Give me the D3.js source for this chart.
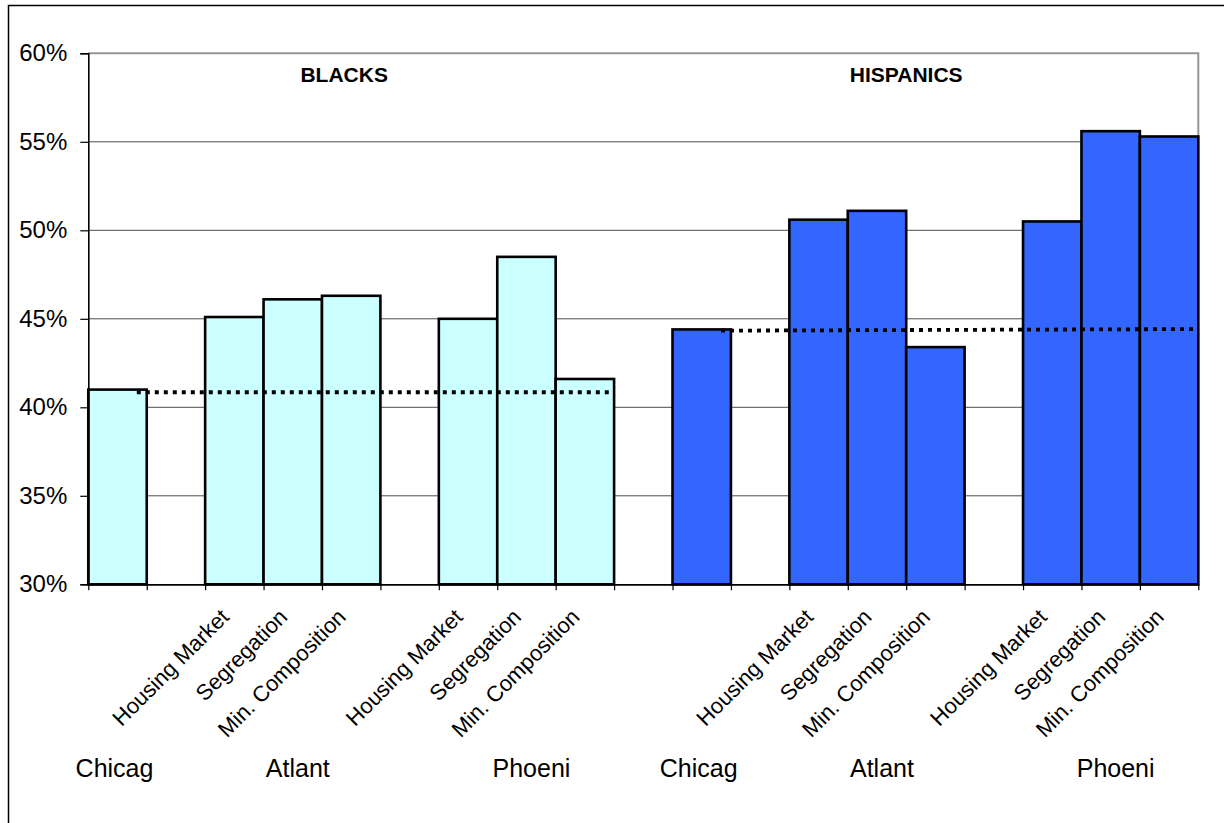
<!DOCTYPE html>
<html>
<head>
<meta charset="utf-8">
<script src="https://cdn.jsdelivr.net/npm/d3@7"></script>
<style>
  html, body { margin: 0; padding: 0; background: #ffffff; }
  svg { display: block; font-family: Arial, "Liberation Sans", sans-serif; }
</style>
</head>
<body>
<svg id="chart" width="1224" height="823"></svg>
<script>
// ---- data -------------------------------------------------------------
const groupNames = ["BLACKS", "HISPANICS"];
const cityLabels = ["Chicag", "Atlant", "Phoeni"];
const factorLabels = ["Housing Market", "Segregation", "Min. Composition"];
const groupColors = ["#CCFFFF", "#3366FF"];

// Chicago baseline followed by the three factor scenarios for Atlanta and Phoenix (%)
const blacksChicago = [41.0];
const blacksAtlanta = [45.1, 46.1, 46.3];
const blacksPhoenix = [45.0, 48.5, 41.6];
const hispanicsChicago = [44.4];
const hispanicsAtlanta = [50.6, 51.1, 43.4];
const hispanicsPhoenix = [50.5, 55.6, 55.3];

// Dotted Chicago reference level for each group (start, end) in %
const blacksReference = [40.85, 40.85];
const hispanicsReference = [44.33, 44.42];

const yTicks = [30, 35, 40, 45, 50, 55, 60];

// ---- build the category slots (bars and empty spacer slots) ------------
const groupData = [
  { name: groupNames[0], color: groupColors[0], cities: [blacksChicago, blacksAtlanta, blacksPhoenix], ref: blacksReference },
  { name: groupNames[1], color: groupColors[1], cities: [hispanicsChicago, hispanicsAtlanta, hispanicsPhoenix], ref: hispanicsReference }
];

const slots = [];
const cityGroups = [];
groupData.forEach((g, gi) => {
  if (gi > 0) slots.push({ gap: true });
  g.start = slots.length;
  g.cities.forEach((vals, ci) => {
    if (ci > 0) slots.push({ gap: true });
    const first = slots.length;
    vals.forEach((v, k) => {
      slots.push({
        gap: false, value: v, color: g.color,
        label: vals.length > 1 ? factorLabels[k] : ""
      });
    });
    cityGroups.push({ label: cityLabels[ci], first, last: slots.length - 1, single: vals.length === 1 });
  });
  g.end = slots.length;
});

// ---- layout -------------------------------------------------------------
const svg = d3.select("#chart");
const plot = { left: 88.3, right: 1198.3, top: 53.3, bottom: 584.3 };

const x = d3.scaleBand().domain(d3.range(slots.length)).range([plot.left, plot.right]).padding(0);
const xUnits = d3.scaleLinear().domain([0, slots.length]).range([plot.left, plot.right]);
const y = d3.scaleLinear().domain([30, 60]).range([plot.bottom, plot.top]);
const bw = x.bandwidth();

// outer chart frame
svg.append("rect")
  .attr("x", 8.5).attr("y", 5.5)
  .attr("width", 1240).attr("height", 840)
  .attr("fill", "none").attr("stroke", "#000").attr("stroke-width", 1.5);

// horizontal gridlines
svg.append("g")
  .selectAll("line")
  .data(yTicks.filter(t => t > 30 && t < 60))
  .join("line")
  .attr("x1", plot.left).attr("x2", plot.right)
  .attr("y1", d => y(d)).attr("y2", d => y(d))
  .attr("stroke", "#4d4d4d").attr("stroke-width", 1);

// plot area border (top and right)
svg.append("path")
  .attr("d", `M${plot.left},${y(60)}H${plot.right}V${plot.bottom}`)
  .attr("fill", "none").attr("stroke", "#969696").attr("stroke-width", 2);

// bars
svg.append("g")
  .selectAll("rect")
  .data(slots.map((s, i) => ({ ...s, i })).filter(s => !s.gap))
  .join("rect")
  .attr("x", d => x(d.i))
  .attr("y", d => y(d.value))
  .attr("width", bw)
  .attr("height", d => y(30) - y(d.value))
  .attr("fill", d => d.color)
  .attr("stroke", "#000")
  .attr("stroke-width", 2.6);

// dotted Chicago reference lines
groupData.forEach(g => {
  const x0 = xUnits(g.start + 0.83);
  const x1 = xUnits(g.end - (g.start > 0 ? 0.07 : 0));
  svg.append("line")
    .attr("x1", x0).attr("x2", x1)
    .attr("y1", y(g.ref[0])).attr("y2", y(g.ref[1]))
    .attr("stroke", "#000")
    .attr("stroke-width", 3.8)
    .attr("stroke-dasharray", "4,5");
});

// y axis
const yAxis = d3.axisLeft(y)
  .tickValues(yTicks)
  .tickFormat(d => d + "%")
  .tickSize(8)
  .tickPadding(13);
const gy = svg.append("g").attr("transform", `translate(${plot.left},0)`).call(yAxis);
gy.select(".domain").attr("stroke", "#000").attr("stroke-width", 1.6);
gy.selectAll(".tick line").attr("stroke", "#000").attr("stroke-width", 1.2);
gy.selectAll(".tick text")
  .attr("fill", "#000")
  .style("font-size", "24px")
  .style("font-family", 'Arial, "Liberation Sans", sans-serif');

// x axis with ticks at every slot boundary
const xAxis = d3.axisBottom(xUnits)
  .tickValues(d3.range(slots.length + 1))
  .tickFormat("")
  .tickSize(6)
  .tickSizeOuter(0);
const gx = svg.append("g").attr("transform", `translate(0,${plot.bottom})`).call(xAxis);
gx.select(".domain").attr("stroke", "#000").attr("stroke-width", 1.8);
gx.selectAll(".tick line").attr("stroke", "#000").attr("stroke-width", 1.2);

// rotated factor labels
svg.append("g")
  .selectAll("text")
  .data(slots.map((s, i) => ({ ...s, i })).filter(s => !s.gap && s.label))
  .join("text")
  .attr("transform", d => `translate(${x(d.i) + bw / 2 - 4},${plot.bottom + 34}) rotate(-45)`)
  .attr("text-anchor", "end")
  .style("font-size", "22px")
  .attr("fill", "#000")
  .text(d => d.label);

// city labels: single-bar cities are left-aligned from the bar's left region,
// multi-bar cities are centred slightly right of their bar block
svg.append("g")
  .selectAll("text")
  .data(cityGroups)
  .join("text")
  .attr("x", d => (x(d.first) + x(d.last) + bw) / 2 + (d.single ? -3 : 5))
  .attr("y", 777)
  .attr("text-anchor", "middle")
  .style("font-size", "25px")
  .attr("fill", "#000")
  .text(d => d.label);

// group titles
const titleSlots = [4.38, 14.0];
svg.append("g")
  .selectAll("text")
  .data(groupData)
  .join("text")
  .attr("x", (d, i) => xUnits(titleSlots[i]))
  .attr("y", 82)
  .attr("text-anchor", "middle")
  .style("font-size", "21px")
  .style("font-weight", "bold")
  .attr("fill", "#000")
  .text(d => d.name);
</script>
</body>
</html>
